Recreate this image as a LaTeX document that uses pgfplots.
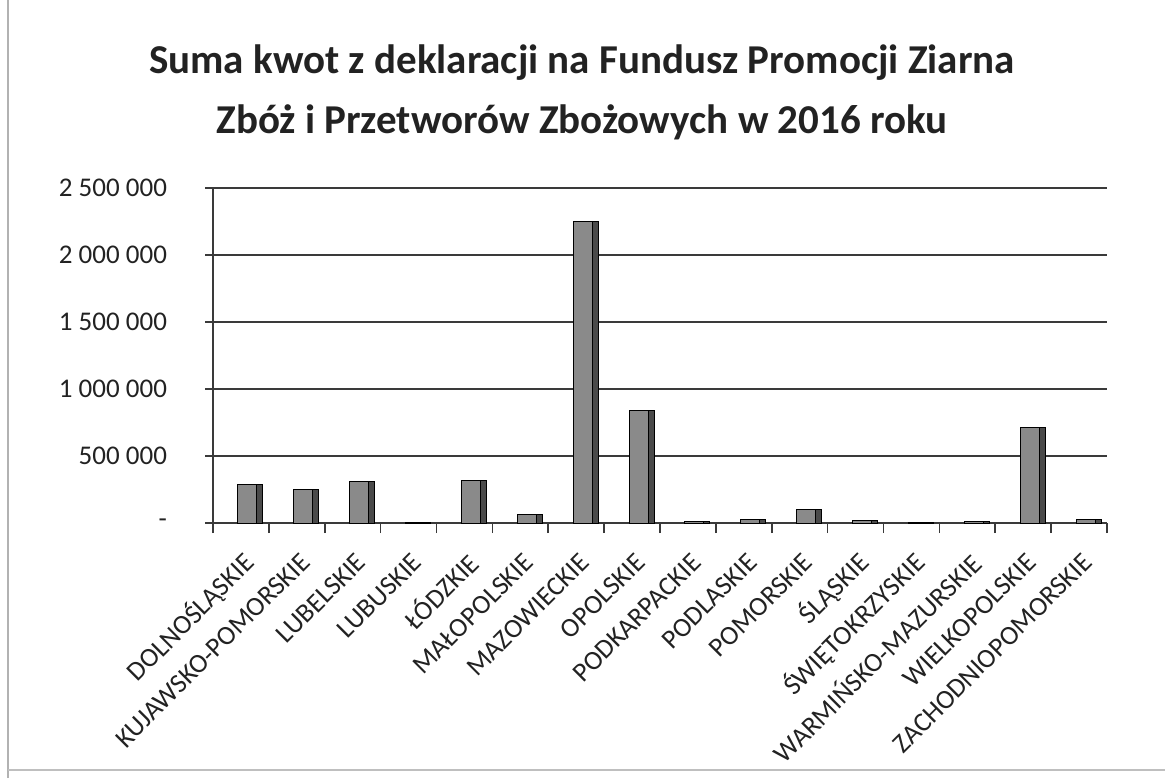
\documentclass[border=0pt]{standalone}
\usepackage{pgfplots}
\pgfplotsset{compat=1.18}
\usepackage{fontspec}
\setmainfont{Carlito}
\definecolor{barfront}{HTML}{8A8A8A}
\definecolor{barside}{HTML}{4A4A4A}
\definecolor{gridc}{HTML}{3A3A3A}
\definecolor{txt}{HTML}{222222}
\pgfplotstableread{
x val
0 285000
1 250000
2 310000
3 5000
4 315000
5 67000
6 2250000
7 840000
8 8000
9 25000
10 100000
11 20000
12 5000
13 8000
14 710000
15 25000
}\data
\begin{document}
\begin{tikzpicture}[x=1pt,y=1pt]
\useasboundingbox (0,0) rectangle (582.5,389);
\draw[gray!60, line width=0.8pt] (4,0) -- (4,389);
\draw[gray!50, line width=0.8pt] (4,4) -- (582.5,4);
\node[font=\fontsize{20.5}{30}\selectfont\bfseries, text=txt, align=center] at (291,343)
  {Suma kwot z deklaracji na Fundusz Promocji Ziarna\\Zbóż i Przetworów Zbożowych w 2016 roku};
\begin{axis}[
  at={(106.5pt,127.5pt)}, anchor=south west,
  width=447pt, height=167.5pt, scale only axis,
  xmin=-0.5, xmax=15.5, ymin=0, ymax=2500000,
  axis x line*=bottom, axis y line*=left,
  axis line style={gridc, line width=0.8pt},
  ymajorgrids, grid style={gridc, line width=0.9pt},
  ytick={0,500000,1000000,1500000,2000000,2500000},
  yticklabels={-,500 000,1 000 000,1 500 000,2 000 000,2 500 000},
  scaled y ticks=false,
  yticklabel style={font=\fontsize{13.5}{13.5}\selectfont, text=txt, xshift=-15.5pt},
  xtick={0,...,15},
  xticklabels={DOLNOŚLĄSKIE,KUJAWSKO-POMORSKIE,LUBELSKIE,LUBUSKIE,ŁÓDZKIE,MAŁOPOLSKIE,MAZOWIECKIE,OPOLSKIE,PODKARPACKIE,PODLASKIE,POMORSKIE,ŚLĄSKIE,ŚWIĘTOKRZYSKIE,WARMIŃSKO-MAZURSKIE,WIELKOPOLSKIE,ZACHODNIOPOMORSKIE},
  xticklabel style={font=\fontsize{13.5}{13.5}\selectfont, text=txt, rotate=45, anchor=east, xshift=-3pt, yshift=-12.5pt},
  major x tick style={draw=none},
  minor xtick={-0.5,0.5,...,15.5},
  minor x tick style={gridc, line width=0.8pt},
  minor tick length=5pt, major tick length=4pt,
  tick align=outside,
  ytick style={gridc, line width=0.8pt},
  clip=false,
]
\addplot[ybar, bar width=9.5pt, bar shift=3.25pt, fill=barfront, draw=black, line width=0.5pt] table[x=x, y=val] {\data};
\addplot[ybar, bar width=3pt, bar shift=9.5pt, fill=barside, draw=black, line width=0.5pt] table[x=x, y=val] {\data};
\end{axis}
\end{tikzpicture}
\end{document}
